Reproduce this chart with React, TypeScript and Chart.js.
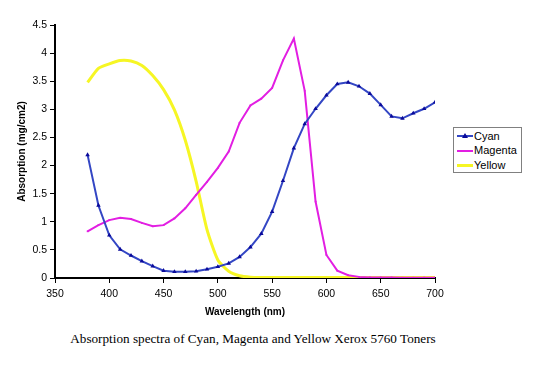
import React, { useEffect, useRef } from "react";
import { Chart, registerables } from "chart.js";

Chart.register(...registerables);

const wavelengths = [380, 390, 400, 410, 420, 430, 440, 450, 460, 470, 480, 490, 500, 510, 520, 530, 540, 550, 560, 570, 580, 590, 600, 610, 620, 630, 640, 650, 660, 670, 680, 690, 700];
const cyan = [2.19, 1.29, 0.76, 0.51, 0.4, 0.3, 0.21, 0.13, 0.11, 0.11, 0.12, 0.155, 0.2, 0.26, 0.375, 0.55, 0.79, 1.18, 1.73, 2.31, 2.74, 3.01, 3.25, 3.45, 3.48, 3.41, 3.28, 3.08, 2.875, 2.84, 2.93, 3.01, 3.125];
const magenta = [0.83, 0.94, 1.03, 1.07, 1.05, 0.98, 0.92, 0.94, 1.06, 1.24, 1.48, 1.71, 1.96, 2.25, 2.76, 3.07, 3.19, 3.38, 3.87, 4.26, 3.33, 1.36, 0.41, 0.13, 0.05, 0.02, 0.01, 0.01, 0.01, 0.005, 0.005, 0.005, 0.005];
const yellow = [3.48, 3.73, 3.81, 3.87, 3.86, 3.78, 3.6, 3.35, 2.99, 2.45, 1.72, 0.86, 0.32, 0.12, 0.04, 0.015, 0.01, 0.01, 0.01, 0.01, 0.01, 0.01, 0.01, 0.01, 0.01, 0.01, 0.01, 0.01, 0.01, 0.01, 0.01, 0.01, 0.01];
const seriesNames = ["Cyan", "Magenta", "Yellow"];
const xTitle = "Wavelength (nm)";
const yTitle = "Absorption (mg/cm2)";
const caption = "Absorption spectra of Cyan, Magenta and Yellow Xerox 5760 Toners";

const CYAN_LINE = "#3346c4";
const CYAN_MARK = "#0a0a9a";
const MAGENTA = "#e21ee2";
const YELLOW = "#f6f624";

const toPoints = (vals: number[]) => wavelengths.map((x, i) => ({ x, y: vals[i] }));

export default function App() {
  const ref = useRef<HTMLCanvasElement | null>(null);

  useEffect(() => {
    if (!ref.current) return;
    const font = { family: "Arial, 'Liberation Sans', sans-serif", size: 10.5 };
    const chart = new Chart(ref.current, {
      type: "line",
      data: {
        datasets: [
          {
            label: seriesNames[0],
            data: toPoints(cyan),
            borderColor: CYAN_LINE,
            backgroundColor: CYAN_MARK,
            borderWidth: 2,
            pointStyle: "triangle",
            pointRadius: 2.6,
            pointBorderWidth: 0,
            pointBackgroundColor: CYAN_MARK,
            tension: 0,
            order: 1,
          },
          {
            label: seriesNames[1],
            data: toPoints(magenta),
            borderColor: MAGENTA,
            backgroundColor: MAGENTA,
            borderWidth: 2,
            pointStyle: "rect",
            pointRadius: 1.2,
            pointBorderWidth: 0,
            tension: 0,
            order: 2,
          },
          {
            label: seriesNames[2],
            data: toPoints(yellow),
            borderColor: YELLOW,
            backgroundColor: YELLOW,
            borderWidth: 3,
            pointRadius: 0,
            tension: 0.2,
            order: 3,
          },
        ],
      },
      options: {
        responsive: false,
        animation: false,
        layout: { padding: { left: 0, right: 105, top: 25, bottom: 0 } },
        plugins: { legend: { display: false }, tooltip: { enabled: false }, title: { display: false } },
        scales: {
          x: {
            type: "linear",
            min: 350,
            max: 700,
            ticks: { stepSize: 50, color: "#000", font, padding: 5, maxRotation: 0 },
            grid: { display: true, drawOnChartArea: false, drawTicks: true, tickLength: 5, color: "#000", lineWidth: 1 },
            border: { display: true, color: "#000", width: 2 },
            title: {
              display: true,
              text: xTitle,
              color: "#000",
              font: { family: "Arial, 'Liberation Sans', sans-serif", size: 10, weight: "bold" },
              padding: { top: 0, bottom: 2 },
            },
            afterFit: (s: any) => {
              s.height = 42;
            },
          },
          y: {
            type: "linear",
            min: 0,
            max: 4.5,
            ticks: {
              stepSize: 0.5,
              color: "#000",
              font,
              padding: 3,
              callback: (v: any) => String(Number(v)),
            },
            grid: { display: true, drawOnChartArea: false, drawTicks: true, tickLength: 5, color: "#000", lineWidth: 1 },
            border: { display: true, color: "#000", width: 2 },
            title: {
              display: true,
              text: yTitle,
              color: "#000",
              font: { family: "Arial, 'Liberation Sans', sans-serif", size: 10, weight: "bold" },
              padding: { top: 16, bottom: 0 },
            },
            afterFit: (s: any) => {
              s.width = 55;
            },
          },
        },
      },
    });
    return () => chart.destroy();
  }, []);

  const legendFont = "Arial, 'Liberation Sans', sans-serif";
  const legendRow = (name: string, color: string, marker: boolean, thick: number) => (
    <div key={name} style={{ display: "flex", alignItems: "center", height: 14.5 }}>
      <div style={{ position: "relative", width: 16, height: 10, marginRight: 1 }}>
        <div style={{ position: "absolute", left: 0, top: 5 - thick / 2, width: 16, height: thick, background: color }} />
        {marker && (
          <div
            style={{
              position: "absolute",
              left: 5,
              top: 1.5,
              width: 0,
              height: 0,
              borderLeft: "3px solid transparent",
              borderRight: "3px solid transparent",
              borderBottom: "5px solid " + CYAN_MARK,
            }}
          />
        )}
      </div>
      <span style={{ fontFamily: legendFont, fontSize: 11, color: "#000", lineHeight: "13px" }}>{name}</span>
    </div>
  );

  return (
    <div style={{ position: "absolute", left: 0, top: 0, width: 540, height: 366, background: "#fff" }}>
      <canvas ref={ref} width={540} height={320} style={{ position: "absolute", left: 0, top: 0, width: 540, height: 320 }} />
      <div
        style={{
          position: "absolute",
          left: 453,
          top: 127,
          width: 64,
          height: 43,
          border: "1px solid #808080",
          padding: "1px 0 0 3px",
          boxSizing: "content-box",
          background: "#fff",
        }}
      >
        {legendRow(seriesNames[0], CYAN_LINE, true, 2)}
        {legendRow(seriesNames[1], MAGENTA, false, 2)}
        {legendRow(seriesNames[2], YELLOW, false, 3)}
      </div>
      <div
        style={{
          position: "absolute",
          left: 0,
          width: 506,
          top: 331,
          textAlign: "center",
          fontFamily: "'Times New Roman', 'Liberation Serif', serif",
          fontSize: 13.2,
          color: "#000",
          whiteSpace: "nowrap",
        }}
      >
        {caption}
      </div>
    </div>
  );
}
